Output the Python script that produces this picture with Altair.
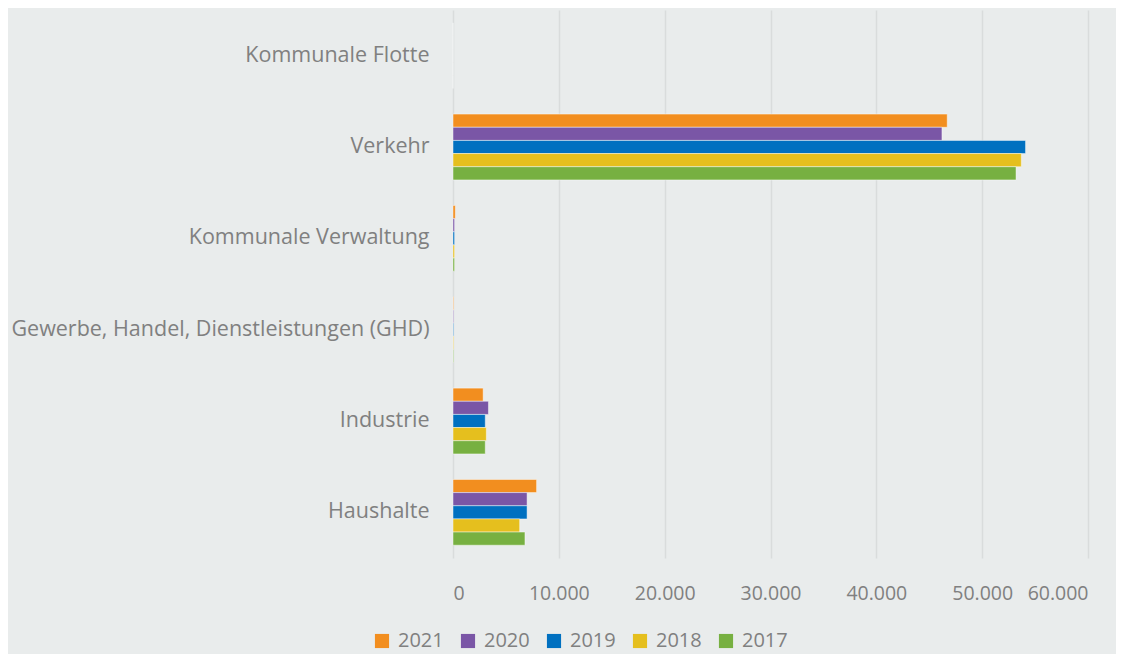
import altair as alt
import pandas as pd

categories = ["Kommunale Flotte", "Verkehr", "Kommunale Verwaltung",
              "Gewerbe, Handel, Dienstleistungen (GHD)", "Industrie", "Haushalte"]
years = ["2021", "2020", "2019", "2018", "2017"]
colors = ["#F28E1F", "#7A56A6", "#0070C0", "#E5BF1E", "#77B041"]

# values per category, in order of years (2021..2017)
v_flotte = [0, 0, 0, 0, 0]
v_verkehr = [46700, 46200, 54100, 53700, 53200]
v_verwaltung = [220, 150, 150, 150, 150]
v_ghd = [60, 60, 60, 60, 60]
v_industrie = [2850, 3350, 3050, 3150, 3050]
v_haushalte = [7900, 7000, 7000, 6300, 6800]

series = [v_flotte, v_verkehr, v_verwaltung, v_ghd, v_industrie, v_haushalte]
rows = []
for cat, vals in zip(categories, series):
    for y, v in zip(years, vals):
        rows.append({"Kategorie": cat, "Jahr": y, "Wert": v})
df = pd.DataFrame(rows)

gray = "#808080"
font = "Open Sans"

chart = alt.Chart(df).mark_bar(stroke="white", strokeOpacity=0.45, strokeWidth=1).encode(
    y=alt.Y("Kategorie:N", sort=categories, title=None,
            scale=alt.Scale(paddingInner=0.28, paddingOuter=0.14),
            axis=alt.Axis(ticks=False, domain=False, grid=False, labelPadding=24,
                          labelFontSize=21.5, labelColor=gray, labelFont=font, labelLimit=600)),
    yOffset=alt.YOffset("Jahr:N", sort=years),
    x=alt.X("Wert:Q", title=None,
            scale=alt.Scale(domain=[0, 60000], nice=False),
            axis=alt.Axis(values=[0, 10000, 20000, 30000, 40000, 50000, 60000],
                          labelExpr="datum.value == 0 ? '0' : format(datum.value/1000, 'd') + '.000'",
                          ticks=False, domain=False, grid=True, gridColor="#d9dcdc", gridWidth=1.5,
                          labelFontSize=19.5, labelColor=gray, labelFont=font, labelPadding=26)),
    color=alt.Color("Jahr:N", sort=years,
                    scale=alt.Scale(domain=years, range=colors),
                    legend=alt.Legend(orient="none", legendX=-81, legendY=621,
                                      direction="horizontal", title=None,
                                      symbolType="square", symbolSize=200, symbolStrokeWidth=0,
                                      symbolOffset=0, labelOffset=6,
                                      labelFontSize=20, labelColor=gray, labelFont=font,
                                      columnPadding=14)),
).properties(
    width=635, height=548,
    autosize=alt.AutoSizeParams(type="none"),
    padding={"left": 445, "top": 2, "right": 28, "bottom": 96},
    background="#e9ecec",
).configure_view(stroke=None)

chart.save("out.html", embed_options={"renderer": "svg", "actions": False})
